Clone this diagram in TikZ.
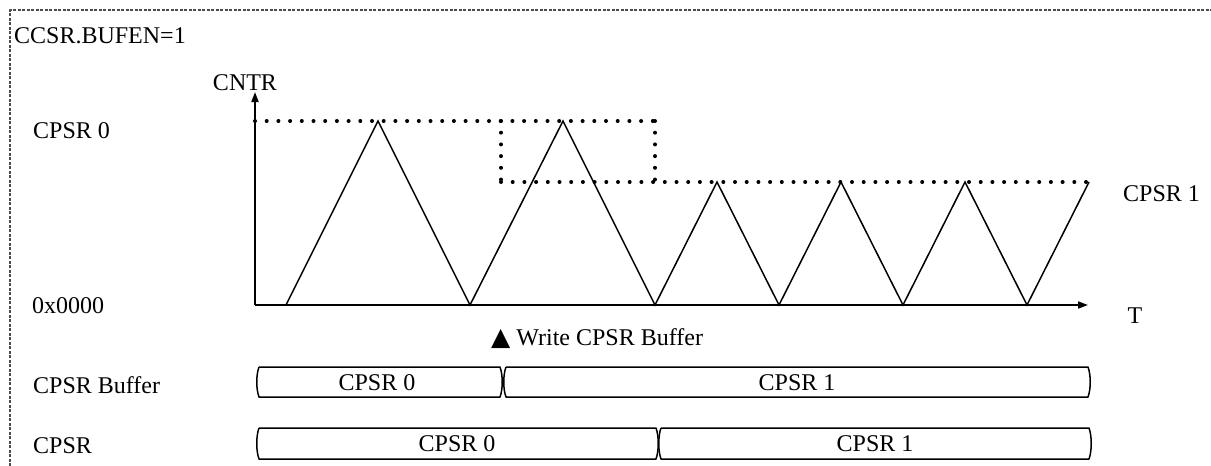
\documentclass[tikz,border=0pt]{standalone}
\usepackage{fontspec}
\setmainfont{Liberation Serif}
\newfontfamily\symfont{DejaVu Sans}
\usetikzlibrary{arrows.meta}

\tikzset{
  lbl/.style={anchor=base west, inner sep=0pt, font=\fontsize{24}{28}\selectfont},
  boxlbl/.style={anchor=center, inner sep=0pt, font=\fontsize{24}{28}\selectfont},
  dotline/.style={line width=4pt, line cap=round, dash pattern=on 0pt off 11.7pt},
  frameline/.style={line width=1.2pt, gray!60!black, dash pattern=on 3pt off 1.5pt},
  axisline/.style={line width=1.8pt, -{Triangle[length=10pt,width=7pt]}},
  wave/.style={line width=1.5pt, line join=miter},
  busline/.style={line width=1.5pt}
}

\begin{document}
\begin{tikzpicture}[x=1pt, y=-1pt, line cap=butt, line join=round]

  %% ════ frame ════
  \draw[frameline] (10,466) -- (10,10) -- (1211,10);

  %% ════ axes ════
  \coordinate (O) at (255,305);
  \coordinate (ytop) at (255,92);
  \coordinate (xend) at (1088,305);
  \draw[axisline] (O) -- (ytop);
  \draw[axisline] (O) -- (xend);

  %% ════ dotted compare levels ════
  \draw[dotline] (255,121) -- (655,121);
  \draw[dotline] (501,121) -- (501,182);
  \draw[dotline] (655,121) -- (655,182);
  \draw[dotline] (501,182) -- (1090,182);

  %% ════ counter wave ════
  \draw[wave] (286,305) -- (378,121) -- (470,305) -- (563,121) -- (655,305)
              -- (717,182) -- (779,305) -- (841,182) -- (903,305)
              -- (965,182) -- (1027,305) -- (1089,182);

  %% ════ bus rows ════
  % CPSR Buffer
  \draw[busline] (259,367) -- (500,367) .. controls (503,375) and (503,389) .. (500,397)
                 -- (259,397) .. controls (256,389) and (256,375) .. (259,367);
  \draw[busline] (506,367) -- (1088,367) .. controls (1091,375) and (1091,389) .. (1088,397)
                 -- (506,397) .. controls (503,389) and (503,375) .. (506,367);
  % CPSR
  \draw[busline] (259,428) -- (656,428) .. controls (659,436) and (659,451) .. (656,459)
                 -- (259,459) .. controls (256,451) and (256,436) .. (259,428);
  \draw[busline] (661,428) -- (1089,428) .. controls (1092,436) and (1092,451) .. (1089,459)
                 -- (661,459) .. controls (658,451) and (658,436) .. (661,428);

  %% ════ labels ════
  \node[lbl] (bufen) at (14,43) {CCSR.BUFEN=1};
  \node[lbl, anchor=base] (cntr) at (245,90) {CNTR};
  \node[lbl] (cpsrzero) at (33,138) {CPSR 0};
  \node[lbl] (cpsrone) at (1123,201) {CPSR 1};
  \node[lbl] (zero) at (32,313) {0x0000};
  \node[lbl, anchor=base] (tlab) at (1135,323) {T};
  \node[lbl] (wrbuf) at (491,345) {{\symfont\fontsize{25}{28}\selectfont ▲}\ Write CPSR Buffer};
  \node[lbl] (lbbuf) at (33,393) {CPSR Buffer};
  \node[lbl] (lbcpsr) at (33,453) {CPSR};

  \node[boxlbl] (bufzero) at (377,383) {CPSR 0};
  \node[boxlbl] (bufone) at (797,383) {CPSR 1};
  \node[boxlbl] (regzero) at (457,444) {CPSR 0};
  \node[boxlbl] (regone) at (875,444) {CPSR 1};

  % fix the canvas
  \pgfresetboundingbox
  \path[use as bounding box] (0,0) rectangle (1211,466);
\end{tikzpicture}
\end{document}
